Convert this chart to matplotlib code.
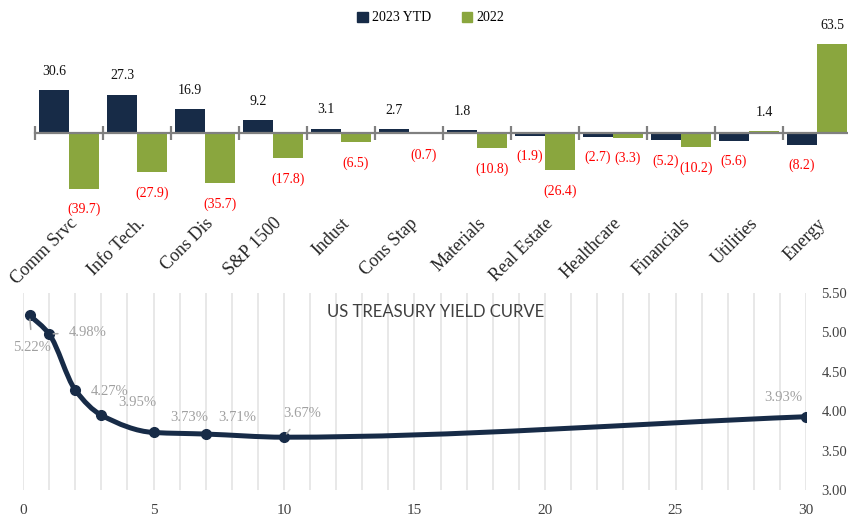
import numpy as np
import matplotlib
matplotlib.use('Agg')
import matplotlib.pyplot as plt
from matplotlib.path import Path
from matplotlib.patches import PathPatch, Patch
from matplotlib.ticker import FixedLocator, MultipleLocator

# ---------------- data ----------------
categories = ['Comm Srvc', 'Info Tech.', 'Cons Dis', 'S&P 1500', 'Indust', 'Cons Stap',
              'Materials', 'Real Estate', 'Healthcare', 'Financials', 'Utilities', 'Energy']
ytd_2023 = [30.6, 27.3, 16.9, 9.2, 3.1, 2.7, 1.8, -1.9, -2.7, -5.2, -5.6, -8.2]
full_2022 = [-39.7, -27.9, -35.7, -17.8, -6.5, -0.7, -10.8, -26.4, -3.3, -10.2, 1.4, 63.5]
series_names = ['2023 YTD', '2022']

maturities = [0.25, 1, 2, 3, 5, 7, 10, 30]
yields = [5.22, 4.98, 4.27, 3.95, 3.73, 3.71, 3.67, 3.93]
yield_ticks = [3.00, 3.50, 4.00, 4.50, 5.00, 5.50]
maturity_ticks = [0, 5, 10, 15, 20, 25, 30]
curve_title = 'US TREASURY YIELD CURVE'

# ---------------- style ----------------
NAVY = '#172B47'
GREEN = '#8AA63E'
SERIF = 'Liberation Serif'
W, H = 848, 521
fig = plt.figure(figsize=(W / 100, H / 100), dpi=100)


def box(l, t, r, b):
    return [l / W, 1 - b / H, (r - l) / W, (b - t) / H]


# ---------------- top bar chart ----------------
ax1 = fig.add_axes(box(35, 30, 848, 218))
x = np.arange(len(categories))
bw = 0.44
ax1.bar(x - 0.22, ytd_2023, bw, color=NAVY, zorder=2)
ax1.bar(x + 0.22, full_2022, bw, color=GREEN, zorder=2)
ax1.set_xlim(-0.5, -0.5 + 813 / 68)
ax1.set_ylim(-85 / 1.405, 103 / 1.405)

for s in ['top', 'left', 'right']:
    ax1.spines[s].set_visible(False)
ax1.spines['bottom'].set_position(('data', 0))
ax1.spines['bottom'].set_color('#808080')
ax1.spines['bottom'].set_linewidth(1.6)
ax1.spines['bottom'].set_zorder(3)
ax1.set_yticks([])
ax1.set_xticks(x)
ax1.xaxis.set_minor_locator(FixedLocator(np.arange(len(categories) + 1) - 0.5))
ax1.tick_params(axis='x', which='minor', direction='inout', length=10, width=1.6, color='#808080')
ax1.tick_params(axis='x', which='major', length=0, pad=59)
ax1.set_xticklabels(categories, fontfamily=SERIF, fontsize=13, color='#262626')
for lab in ax1.get_xticklabels():
    lab.set_rotation(45)
    lab.set_ha('right')
    lab.set_va('top')
    lab.set_rotation_mode('anchor')


def fmt(v):
    return f'{v:.1f}' if v >= 0 else f'({-v:.1f})'


for offs, vals in ((-0.22, ytd_2023), (0.22, full_2022)):
    for xi, v in zip(x, vals):
        if v >= 0:
            ax1.annotate(fmt(v), (xi + offs, v), xytext=(0, 13.5), textcoords='offset points',
                         ha='center', va='center', fontfamily=SERIF, fontsize=10, color='#111111')
        else:
            ax1.annotate(fmt(v), (xi + offs, v), xytext=(0, -15), textcoords='offset points',
                         ha='center', va='center', fontfamily=SERIF, fontsize=10, color='#FF0000')

fig.legend(handles=[Patch(color=NAVY, label=series_names[0]), Patch(color=GREEN, label=series_names[1])],
           loc='upper center', bbox_to_anchor=(0.508, 1.002), ncol=2, frameon=False,
           handlelength=0.75, handleheight=0.75, handletextpad=0.3, columnspacing=2.2,
           prop={'family': SERIF, 'size': 10})

# ---------------- bottom yield curve ----------------
ax2 = fig.add_axes(box(23, 293, 806, 490))
ax2.set_xlim(0, 30)
ax2.set_ylim(3.0, 5.5)
for s in ax2.spines.values():
    s.set_visible(False)
ax2.xaxis.set_major_locator(FixedLocator(maturity_ticks))
ax2.xaxis.set_minor_locator(MultipleLocator(1))
ax2.grid(axis='x', which='both', color='#E6E6E6', lw=1.3, zorder=0)
ax2.yaxis.tick_right()
ax2.set_yticks(yield_ticks)
ax2.set_yticklabels([f'{t:.2f}' for t in yield_ticks], fontfamily=SERIF, fontsize=10.5, color='#404040')
ax2.set_xticklabels([str(t) for t in maturity_ticks], fontfamily=SERIF, fontsize=11, color='#404040')
ax2.tick_params(axis='both', which='both', length=0)
ax2.tick_params(axis='y', pad=11)
ax2.tick_params(axis='x', pad=10)

# smooth (monotone cubic) path through the data points
xs = np.array(maturities, float)
ys = np.array(yields, float)
h = np.diff(xs)
d = np.diff(ys) / h
m = np.zeros_like(xs)
m[0], m[-1] = d[0], d[-1]
for i in range(1, len(xs) - 1):
    if d[i - 1] * d[i] > 0:
        w1 = 2 * h[i] + h[i - 1]
        w2 = h[i] + 2 * h[i - 1]
        m[i] = (w1 + w2) / (w1 / d[i - 1] + w2 / d[i])
verts = [(xs[0], ys[0])]
codes = [Path.MOVETO]
for i in range(len(xs) - 1):
    verts += [(xs[i] + h[i] / 3, ys[i] + m[i] * h[i] / 3),
              (xs[i + 1] - h[i] / 3, ys[i + 1] - m[i + 1] * h[i] / 3),
              (xs[i + 1], ys[i + 1])]
    codes += [Path.CURVE4] * 3
ax2.add_patch(PathPatch(Path(verts, codes), fill=False, edgecolor=NAVY, lw=3.6,
                        capstyle='round', joinstyle='round', zorder=3))
ax2.plot(maturities, yields, 'o', color=NAVY, ms=7, zorder=4)

label_offsets = [(2, -23), (28, 1), (25, -1), (26, 9), (26, 11), (23, 12), (13, 17), (-16, 14)]
leaders = [True, True, False, False, False, False, True, False]
for xm, yv, off, lead in zip(maturities, yields, label_offsets, leaders):
    kw = {}
    if lead:
        kw['arrowprops'] = dict(arrowstyle='-', color='#A6A6A6', lw=1.1, shrinkA=6, shrinkB=3)
    ax2.annotate(f'{yv:.2f}%', (xm, yv), xytext=off, textcoords='offset points',
                 ha='center', va='center', fontfamily=SERIF, fontsize=10.5, color='#A0A0A0',
                 zorder=5, **kw)

ax2.text(0.527, 0.905, curve_title, transform=ax2.transAxes, ha='center', va='center',
         fontfamily='Lato', fontsize=12, color='#404040')

fig.savefig('out.png', dpi=100)
